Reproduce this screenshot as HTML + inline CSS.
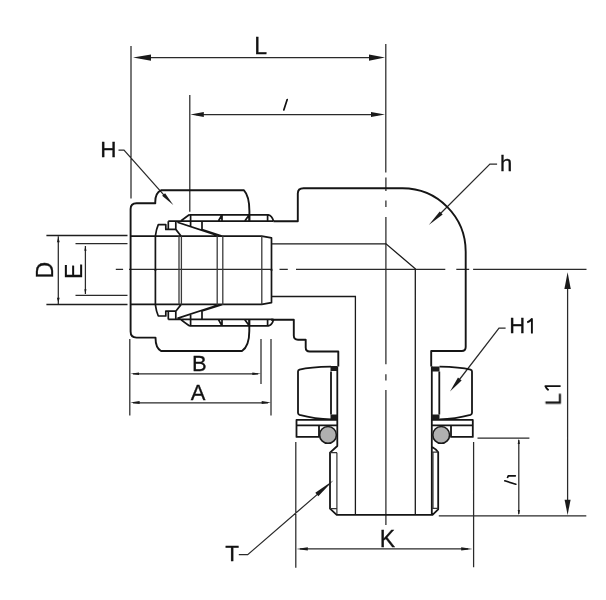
<!DOCTYPE html>
<html><head><meta charset="utf-8"><style>
html,body{margin:0;padding:0;background:#fff;}
svg{display:block;}
text{}
</style></head><body><svg width="606" height="600" viewBox="0 0 606 600"><path d="M131,46 V198.5 M385.8,44 V172.5 M140,57.6 H378 M189.8,95 V211.7 M196,114.5 H378 M58.3,236.3 V304 M75.5,243.5 H127.5 M75.5,295.3 H127.5 M85.4,246 V294 M129.8,339 V415.5 M261,339 V384 M271,339 V415.5 M133,373.9 H258 M133,402.8 H268 M567.6,280 V508 M518.8,440 V514 M477.5,438.2 H529.4 M438.8,515.8 H586.3 M473.1,269.4 H586.5 M295.8,442 V567.8 M473.6,442 V567.3 M300,548.9 H468 M118.5,150.1 H124 L166,197.3 M497.1,164 H489.9 L438,216 M505.6,328 H499 L456,384 M238.8,554.7 H247.7 L320,492.1" stroke="#2a2a2a" stroke-width="1.25" fill="none"/><path d="M46.4,235.6 H127.5 M46.4,304.4 H127.5" stroke="#1e1e1e" stroke-width="1.5" fill="none"/><polygon points="133.00,57.60 151.00,54.50 151.00,60.70" fill="#1a1a1a"/><polygon points="385.00,57.60 369.00,60.70 369.00,54.50" fill="#1a1a1a"/><polygon points="190.40,114.50 203.80,112.10 203.80,116.90" fill="#1a1a1a"/><polygon points="385.00,114.50 371.00,116.90 371.00,112.10" fill="#1a1a1a"/><polygon points="58.30,237.00 59.70,242.30 56.90,242.30" fill="#1a1a1a"/><polygon points="58.30,302.60 56.90,297.80 59.70,297.80" fill="#1a1a1a"/><polygon points="85.40,246.00 86.50,250.80 84.30,250.80" fill="#1a1a1a"/><polygon points="85.40,294.00 84.30,289.20 86.50,289.20" fill="#1a1a1a"/><polygon points="130.30,373.70 139.00,372.40 139.00,375.00" fill="#1a1a1a"/><polygon points="261.00,373.70 252.30,375.00 252.30,372.40" fill="#1a1a1a"/><polygon points="130.30,402.60 139.60,401.10 139.60,404.10" fill="#1a1a1a"/><polygon points="271.00,402.60 261.70,404.10 261.70,401.10" fill="#1a1a1a"/><polygon points="567.60,272.20 570.80,289.00 564.40,289.00" fill="#1a1a1a"/><polygon points="567.60,515.00 564.60,499.70 570.60,499.70" fill="#1a1a1a"/><polygon points="518.80,438.80 519.90,444.00 517.70,444.00" fill="#1a1a1a"/><polygon points="518.80,515.30 517.70,510.00 519.90,510.00" fill="#1a1a1a"/><polygon points="296.40,548.90 307.80,547.20 307.80,550.60" fill="#1a1a1a"/><polygon points="472.60,548.90 461.20,550.60 461.20,547.20" fill="#1a1a1a"/><polygon points="173.30,205.10 162.12,195.85 165.08,193.15" fill="#1a1a1a"/><polygon points="428.75,225.00 439.74,211.39 442.66,214.41" fill="#1a1a1a"/><polygon points="450.00,391.50 457.99,377.58 461.61,380.42" fill="#1a1a1a"/><polygon points="333.50,480.25 318.30,496.34 315.30,492.86" fill="#1a1a1a"/><path d="M115.8,269.3 H123.1 M129,269.4 H272.3 M279.5,269.4 H287.8 M296,269.4 H445.3 M456.3,269.4 H469.2 M385.9,177.5 V191 M385.9,200.5 V207 M385.9,217 V364.2 M385.9,374.2 V380.4 M385.9,390 V525" stroke="#2a2a2a" stroke-width="1.25" fill="none"/><path d="M249.4,221.2 V211 C249.4,199 247,193.5 244,190.3 H161 C157,192 155,196 155.3,203.2 H136.5 Q130.6,203.2 130.6,209 V331.5 Q130.6,337.6 136.5,337.6 H155.5 C155.5,344.5 157,348.9 161,351 H242 C246.5,348 249.3,342 249.3,331 V319.6 M273.5,221.2 H297.8 V193.5 Q297.8,188.3 303.5,188.3 H402.5 A63.2,63.5 0 0 1 465.7,251.8 V347 Q465.7,351 461.7,351 H431.2 V366.5 M271,319.7 H293.8 V335.5 Q293.8,339.7 298,339.7 H305.7 V347.5 Q305.7,351.5 309.7,351.5 H338.3 V366.5" stroke="#151515" stroke-width="1.9" fill="none" stroke-linejoin="round"/><g stroke="#151515" stroke-width="1.7" fill="none" stroke-linejoin="round"><path d="M189.2,214.8 H268.3 Q272,215.5 273.6,221.2 M168.3,221.2 H273.5 M181.1,220.7 L189.2,214.8 M190.6,214.8 V226.5 M202,221.2 V230 M218.3,221.2 L222,214.8 V221.2 M244.6,221.2 L249.3,214.8 V221.2 M267.6,214.8 V221.2 M177.4,222.2 L217.4,235.4 M202,229.6 L222.6,236.2 M175.8,221.2 V229.4 H165.8 V224.6 H158.3 Q156.3,229 155.4,235.8 M168.3,221.2 V229.4 M175.8,229.4 L181.2,236.2 M155.4,236.2 H261.7 L271.5,237.9 V271 M155.4,236.2 V271 M131,236.2 H155.4"/><path d="M189.2,214.8 H268.3 Q272,215.5 273.6,221.2 M168.3,221.2 H273.5 M181.1,220.7 L189.2,214.8 M190.6,214.8 V226.5 M202,221.2 V230 M218.3,221.2 L222,214.8 V221.2 M244.6,221.2 L249.3,214.8 V221.2 M267.6,214.8 V221.2 M177.4,222.2 L217.4,235.4 M202,229.6 L222.6,236.2 M175.8,221.2 V229.4 H165.8 V224.6 H158.3 Q156.3,229 155.4,235.8 M168.3,221.2 V229.4 M175.8,229.4 L181.2,236.2 M155.4,236.2 H261.7 L271.5,237.9 V271 M155.4,236.2 V271 M131,236.2 H155.4" transform="matrix(1,0,0,-1,0,540.6)"/></g><path d="M179,236 V304.6 M181.4,236 V304.6 M217.2,235.5 V305 M222.8,235.5 V305 M261.8,236 V304.6" stroke="#3a3a3a" stroke-width="1.3" fill="none"/><path d="M271.5,243.8 H386 L415.3,268.8 V515 M271.5,296.5 H355.4 V515" stroke="#1a1a1a" stroke-width="1.3" fill="none"/><path d="M439.5,366.6 Q460,367 470.5,369.6 Q472,370.2 472,371.5 V413 Q472,414.2 470.5,414.8 Q455,419 439.5,419.3 M331,366.6 Q310,367 299.5,369.6 Q298,370.2 298,371.5 V413 Q298,414.2 299.5,414.8 Q315,419 331,419.3 M431.8,366.6 V514.6 M431.8,446.7 Q436,449 438.2,452.2 V509.3 L432.5,514.9 H336.7 L330,508.7 V452.7 L337.3,446 V366.6 M439.3,371.5 V414.5 M331,371.5 V414.5 M432,419.9 H472.8 V425.3 H432 M451,425.3 V436.9 H472.8 V425.3 M337.6,419.9 H296.5 V425.3 H337.6 M319,425.3 V436.9 H296.5 V425.3" stroke="#151515" stroke-width="1.8" fill="none" stroke-linejoin="round"/><rect x="431.5" y="366.5" width="8" height="5" fill="#1a1a1a"/><rect x="431.5" y="414.5" width="8" height="5" fill="#1a1a1a"/><rect x="330.5" y="366" width="7" height="5" fill="#1a1a1a"/><rect x="330.5" y="414.5" width="7" height="5" fill="#1a1a1a"/><circle cx="441.2" cy="434.9" r="8.4" fill="#b0b0b0" stroke="#1a1a1a" stroke-width="1.6"/><circle cx="328" cy="434.9" r="8.4" fill="#b0b0b0" stroke="#1a1a1a" stroke-width="1.6"/><path d="M336.9,452.7 V514 M433,452.2 V509 M330,452.7 H337 M330,508.7 H337 M432,452.2 H438.2 M432,508.3 H438.2" stroke="#333" stroke-width="1.2" fill="none"/><path d="M287.2,99.6 L283.8,110 M504.8,480.8 L515.8,484.2 M508.3,475.8 H515.3 M508.3,475.8 L507.6,477.3" stroke="#111" stroke-width="1.7" stroke-linecap="round" fill="none"/><path d="M531.9,333.4 V318.9 Q530.3,321.2 527.2,322.3 M560.6,386.1 H545.4 Q546.5,388.8 548.6,390.3" stroke="#111" stroke-width="1.9" stroke-linejoin="round" fill="none"/><g font-family="Liberation Sans" fill="#111" stroke="#111" stroke-width="0.3" style="opacity:0.999"><text x="254.3" y="53.5" font-size="23" >L</text><text x="100.3" y="157.2" font-size="22.5" >H</text><text x="500" y="171" font-size="22" >h</text><text x="509.3" y="333.4" font-size="22" >H</text><text x="192" y="371.2" font-size="22" >B</text><text x="190.8" y="400" font-size="22" >A</text><text x="379.8" y="547" font-size="23" >K</text><text x="225.3" y="561" font-size="22.5" >T</text><text x="0" y="0" font-size="23" transform="translate(52.8,278.6) rotate(-90)">D</text><text x="0" y="0" font-size="23" transform="translate(81.5,279) rotate(-90)">E</text><text x="0" y="0" font-size="22" transform="translate(560.7,405.4) rotate(-90)">L</text></g></svg></body></html>
